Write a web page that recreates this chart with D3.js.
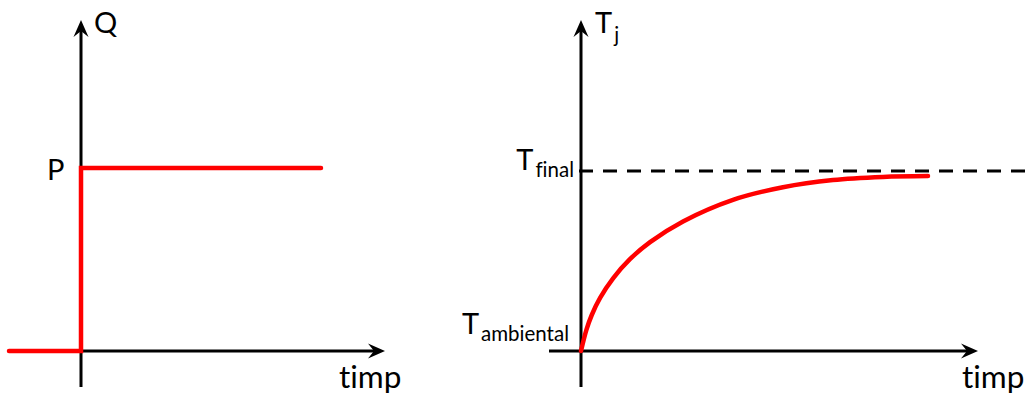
<!DOCTYPE html>
<html>
<head>
<meta charset="utf-8">
<script src="https://cdn.jsdelivr.net/npm/d3@7"></script>
<style>
  html, body { margin: 0; padding: 0; background: #fff; }
  svg { display: block; }
  text { font-family: Lato, "Open Sans", sans-serif; fill: #000; font-variant-ligatures: none; font-feature-settings: "liga" 0; }
</style>
</head>
<body>
<svg id="chart" width="1030" height="394"></svg>
<script>
// ---------- data ----------
// Left panel: power step Q(t)
const qTime  = [-3, 0, 0, 10];
const qValue = [0, 0, 1, 1];
// Right panel: junction temperature response (0 = T_ambiental, 1 = T_final)
const tjTime  = [0, 0.16, 0.31, 0.55, 0.93, 1.41, 1.99, 2.94, 4.38, 5.82, 7.26, 8.7, 10];
const tjValue = [0, 0.12, 0.20, 0.295, 0.405, 0.51, 0.605, 0.72, 0.84, 0.91, 0.95, 0.967, 0.972];
const tFinalLevel = 1;
// labels
const leftYLabel = "Q";
const leftLevelLabel = "P";
const xLabel = "timp";
const rightYLabel = ["T", "j"];
const finalLabel = ["T", "final"];
const ambientLabel = ["T", "ambiental"];

// ---------- layout ----------
const svg = d3.select("#chart");
const RED = "#ff0000";

const L = { ox: 81, oy: 351, top: 20, bottom: 387, left: 81, right: 385, levelY: 168, endX: 321 };
const R = { ox: 581, oy: 351, top: 20, bottom: 387, left: 549, right: 978, levelY: 171, endX: 928 };

const xL = d3.scaleLinear().domain([0, 10]).range([L.ox, L.endX]);
const yL = d3.scaleLinear().domain([0, 1]).range([L.oy, L.levelY]);
const xR = d3.scaleLinear().domain([0, 10]).range([R.ox, R.endX]);
const yR = d3.scaleLinear().domain([0, 1]).range([R.oy, R.levelY]);

const arrowPath = "M0,0 L-17,-7.5 L-11,0 L-17,7.5 Z";

function drawAxes(g, P) {
  // y axis
  g.append("line").attr("x1", P.ox).attr("x2", P.ox).attr("y1", P.bottom).attr("y2", P.top + 8)
    .attr("stroke", "#000").attr("stroke-width", 3);
  g.append("path").attr("d", arrowPath).attr("fill", "#000")
    .attr("transform", `translate(${P.ox},${P.top}) rotate(-90)`);
  // x axis
  g.append("line").attr("x1", P.left).attr("x2", P.right - 8).attr("y1", P.oy).attr("y2", P.oy)
    .attr("stroke", "#000").attr("stroke-width", 3);
  g.append("path").attr("d", arrowPath).attr("fill", "#000")
    .attr("transform", `translate(${P.right},${P.oy})`);
}

// ---------- left panel ----------
const gL = svg.append("g");
drawAxes(gL, L);
gL.append("path")
  .datum(qTime.map((t, i) => [t, qValue[i]]))
  .attr("d", d3.line().x(d => xL(d[0])).y(d => yL(d[1])))
  .attr("fill", "none").attr("stroke", RED).attr("stroke-width", 4.5)
  .attr("stroke-linejoin", "miter").attr("stroke-linecap", "round");

gL.append("text").attr("x", 94).attr("y", 33).attr("font-size", 29).text(leftYLabel);
gL.append("text").attr("x", 47).attr("y", yL(1) + 12).attr("font-size", 29).text(leftLevelLabel);
gL.append("text").attr("x", 339).attr("y", 388).attr("font-size", 31.5).text(xLabel);

// ---------- right panel ----------
const gR = svg.append("g");
drawAxes(gR, R);
gR.append("line")
  .attr("x1", R.ox - 2).attr("x2", 1030)
  .attr("y1", yR(tFinalLevel)).attr("y2", yR(tFinalLevel))
  .attr("stroke", "#000").attr("stroke-width", 3).attr("stroke-dasharray", "14,10");

gR.append("path")
  .datum(tjTime.map((t, i) => [t, tjValue[i]]))
  .attr("d", d3.line().x(d => xR(d[0])).y(d => yR(d[1])).curve(d3.curveCatmullRom.alpha(0.5)))
  .attr("fill", "none").attr("stroke", RED).attr("stroke-width", 4.5)
  .attr("stroke-linecap", "round");

function subLabel(g, x, y, parts, size, subSize, dy, anchor) {
  const t = g.append("text").attr("x", x).attr("y", y).attr("text-anchor", anchor);
  t.append("tspan").attr("font-size", size).text(parts[0]);
  t.append("tspan").attr("font-size", subSize).attr("dx", 2).attr("dy", dy).text(parts[1]);
  return t;
}
subLabel(gR, 595, 33, rightYLabel, 29, 20.5, 9, "start");
subLabel(gR, 574, 170, finalLabel, 29, 20.5, 7, "end");
subLabel(gR, 569, 334, ambientLabel, 29, 20.5, 7, "end");
gR.append("text").attr("x", 962).attr("y", 388).attr("font-size", 31.5).text(xLabel);
</script>
</body>
</html>
